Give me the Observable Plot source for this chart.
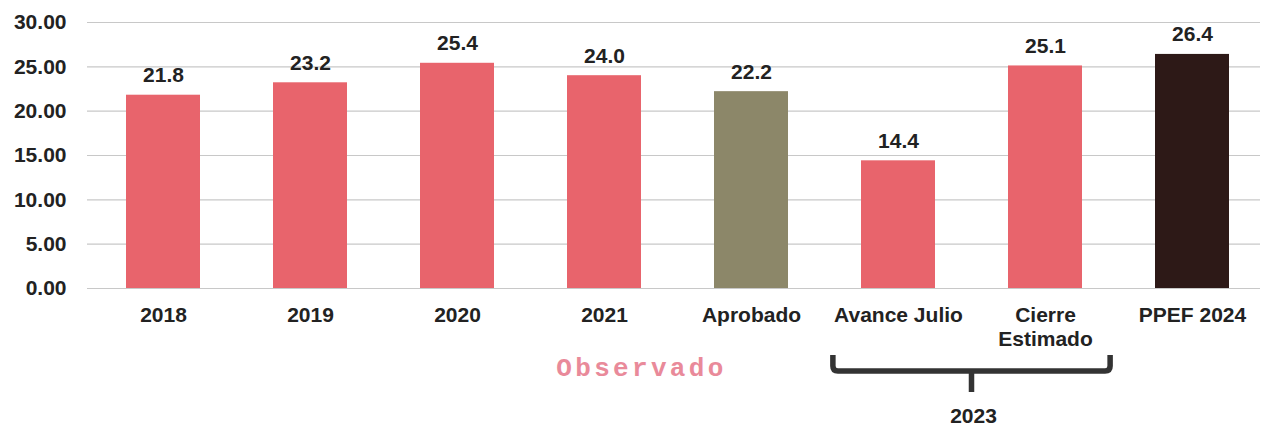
<!DOCTYPE html>
<html>
<head>
<meta charset="utf-8">
<script src="https://cdn.jsdelivr.net/npm/d3@7"></script>
<script src="https://cdn.jsdelivr.net/npm/@observablehq/plot@0.6"></script>
<style>
  html, body { margin: 0; padding: 0; background: #fff; }
  #chart svg { display: block; }
</style>
</head>
<body>
<div id="chart"></div>
<script>
const categories = ["2018", "2019", "2020", "2021", "Aprobado", "Avance Julio", "Cierre Estimado", "PPEF 2024"];
const tickLabels = ["2018", "2019", "2020", "2021", "Aprobado", "Avance Julio", "Cierre\nEstimado", "PPEF 2024"];
const values = [21.8, 23.2, 25.4, 24.0, 22.2, 14.4, 25.1, 26.4];
const groups = ["obs", "obs", "obs", "obs", "aprob", "obs", "obs", "ppef"];
const yTicks = [0, 5, 10, 15, 20, 25, 30];
const groupLabel = "Observado";
const braceFrom = "Avance Julio";
const braceTo = "Cierre Estimado";
const braceLabel = "2023";

const data = categories.map((c, i) => ({cat: c, value: values[i], group: groups[i]}));
const labelOf = new Map(categories.map((c, i) => [c, tickLabels[i]]));

const font = "'Liberation Sans', Arial, sans-serif";
const fs = 21;

const plot = Plot.plot({
  width: 1268,
  height: 427,
  marginTop: 22,
  marginBottom: 139,
  marginLeft: 87,
  marginRight: 0,
  style: {fontFamily: font, fontSize: fs + "px", fontWeight: "bold", color: "#222", background: "#fff"},
  x: {domain: categories, paddingInner: 0.5, paddingOuter: 0.25, label: null},
  y: {domain: [0, 30], label: null},
  color: {domain: ["obs", "aprob", "ppef"], range: ["#e8646c", "#8c8769", "#2d1917"]},
  marks: [
    Plot.ruleY(yTicks, {stroke: "#c8c8c8", strokeWidth: 1.2, insetRight: 8}),
    Plot.axisY(yTicks, {tickSize: 0, tickPadding: 21, tickFormat: d => d.toFixed(2), label: null, fontSize: fs, fontWeight: "bold", fill: "#222"}),
    Plot.axisX({tickSize: 0, tickPadding: 16, tickFormat: d => labelOf.get(d), label: null, fontSize: fs, fontWeight: "bold", fill: "#222", lineHeight: 1.15}),
    Plot.barY(data, {x: "cat", y: "value", fill: "group"}),
    Plot.text(data, {x: "cat", y: "value", text: d => d.value.toFixed(1), lineAnchor: "bottom", dy: -13, fontSize: fs, fontWeight: "bold", fill: "#222"})
  ]
});

document.getElementById("chart").appendChild(plot);

// annotations positioned through the x scale
const xs = plot.scale("x");
const bw = xs.bandwidth;
const step = xs.step;
const svg = d3.select(plot);

const xa = xs.apply(braceFrom) - bw * 0.38;
const xb = xs.apply(braceTo) + bw * 1.38;
const xm = (xa + xb) / 2;
const yTop = 355, yMid = 371, yBot = 392;
svg.append("path")
  .attr("d", `M${xa},${yTop} L${xa},${yMid - 5} Q${xa},${yMid} ${xa + 5},${yMid} L${xb - 5},${yMid} Q${xb},${yMid} ${xb},${yMid - 5} L${xb},${yTop} M${xm},${yMid} L${xm},${yBot}`)
  .attr("fill", "none")
  .attr("stroke", "#333")
  .attr("stroke-width", 5.5);

svg.append("text")
  .attr("x", xm + 2)
  .attr("y", 417)
  .attr("text-anchor", "middle")
  .attr("dominant-baseline", "middle")
  .attr("font-family", font)
  .attr("font-size", fs)
  .attr("font-weight", "bold")
  .attr("fill", "#222")
  .text(braceLabel);

const obsX = xs.apply("2021") + bw / 2 + step * 0.24;
svg.append("text")
  .attr("x", obsX - 83)
  .attr("y", 376)
  .attr("text-anchor", "start")
  .attr("textLength", 167)
  .attr("lengthAdjust", "spacing")
  .attr("font-family", "'Liberation Mono', 'Courier New', monospace")
  .attr("font-size", 26)
  .attr("font-weight", "bold")
  .attr("fill", "#e98a9a")
  .text(groupLabel);
</script>
</body>
</html>
